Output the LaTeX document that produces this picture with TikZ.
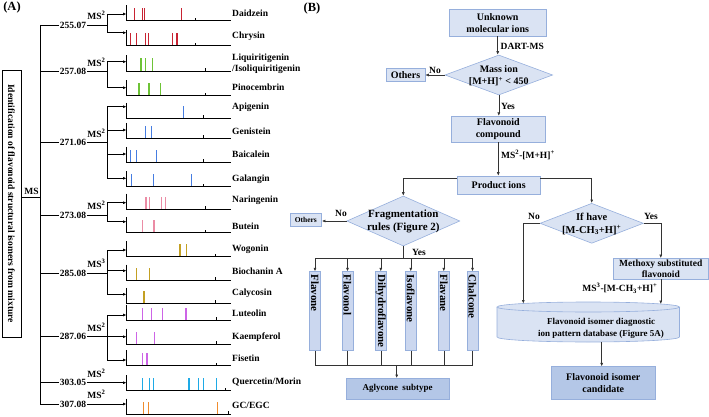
\documentclass[tikz,border=0pt]{standalone}
\usepackage{fontspec}
\setmainfont{Liberation Serif}
\usetikzlibrary{arrows.meta, shapes.geometric, positioning, calc}
\definecolor{pkRed}{RGB}{200,35,50}
\definecolor{pkGreen}{RGB}{110,195,55}
\definecolor{pkBlue}{RGB}{70,125,225}
\definecolor{pkPink}{RGB}{235,140,165}
\definecolor{pkOlive}{RGB}{195,160,35}
\definecolor{pkViolet}{RGB}{205,100,230}
\definecolor{pkCyan}{RGB}{30,170,230}
\definecolor{pkOrange}{RGB}{240,140,45}
\definecolor{boxFill}{RGB}{218,227,243}
\definecolor{boxLine}{RGB}{150,175,220}
\definecolor{darkFill}{RGB}{180,199,231}
\definecolor{vFill}{RGB}{203,215,239}

\begin{document}
\begin{tikzpicture}[x=1pt, y=-1pt,
    txt/.style={font=\fontsize{9.5}{11}\selectfont\bfseries, inner sep=1pt},
    arr/.style={-{Latex[length=3.5pt, width=3pt]}},
    fbox/.style={draw=boxLine, fill=boxFill, line width=0.6pt, align=center, inner sep=0pt, font=\fontsize{10}{12}\selectfont\bfseries},
    dia/.style={diamond, draw=boxLine, fill=boxFill, line width=0.6pt, inner sep=0pt},
    ftxt/.style={align=center, inner sep=0pt, font=\fontsize{10}{12}\selectfont\bfseries},
    vbox/.style={draw=boxLine, fill=vFill, line width=0.6pt, rotate=-90, align=left, text width=73pt, inner xsep=3pt, inner ysep=0pt, minimum height=11.3pt, font=\fontsize{11}{12}\selectfont\bfseries},
    flow/.style={draw=black!80, line width=0.6pt}]
                \useasboundingbox (0,0) rectangle (709,417);

                % Panel letters
                \node[font=\fontsize{12.5}{14}\selectfont\bfseries, inner sep=0pt] (lblA) at (12,7) {(A)};
                \node[font=\fontsize{12.5}{14}\selectfont\bfseries, inner sep=0pt] (lblB) at (312,8) {(B)};

                % (A) title box and MS trunk
                \node[txt, draw, line width=0.7pt, rotate=-90, minimum width=267pt, minimum height=19pt, inner sep=0pt] (title) at (11.5,203.5) {Identification of flavonoid structural isomers from mixture};
                \coordinate (msj) at (40,197);
                \draw[line width=0.7pt] (title.north |- msj) -- (msj);
                \node[txt, anchor=base] (msl) at (31.5,194.5) {MS};
                \coordinate (tkTop) at (40,25);
                \coordinate (tkBot) at (40,404);
                \draw[line width=0.7pt] (tkTop) -- (tkBot);

                % Spectra rows
                \foreach \ya/\yb/\col/\pk/\tk/\ly/\nm [count=\i] in {
                    14/20.7/pkRed/{134.3,142.7,144.3,181.7}/195/13.3/Daidzein,
                    32.7/45.7/pkRed/{130.5,136.7,145.7,148.2,172.7,177}/195/36/Chrysin,
                    61.7/71/pkGreen/{141,145.7,152.3}/205/64/{Liquiritigenin\\/Isoliquiritigenin},
                    87.7/95.7/pkGreen/{139,149,160.7}/205/87.3/Pinocembrin,
                    106.7/118.3/pkBlue/{183.3}/203.3/107.7/Apigenin,
                    130/138.3/pkBlue/{145.7,151.7}/203.3/131/Genistein,
                    154/162.3/pkBlue/{130.7,136.7,156.7}/203.3/154.3/Baicalein,
                    178.3/186.7/pkBlue/{131.7,153.3,191.7}/203.3/179/Galangin,
                    202.7/209/pkPink/{146,149.3,161.7,165.7}/205.7/200.5/Naringenin,
                    221.7/232.7/pkPink/{142.3,154}/205.7/226.7/Butein,
                    250/256.7/pkOlive/{180,186.7}/215/249/Wogonin,
                    270.7/280/pkOlive/{136.7,149.7}/215/271/Biochanin A,
                    294.3/303.3/pkOlive/{144}/215/293.3/Calycosin,
                    315/320/pkViolet/{142.7,151.7,162.7,186}/216.7/313.3/Luteolin,
                    336.7/344/pkViolet/{136.7,154.3}/216.7/336.7/Kaempferol,
                    360/365.7/pkViolet/{142.3,147}/216.7/358.3/Fisetin,
                    382.7/390.7/pkCyan/{142.7,149.3,153.3,189,198.3,203.3,216.7}/225/382/{Quercetin/Morin},
                    404/414/pkOrange/{143.3,148.3,217.7}/228.3/405.7/{GC/EGC}} {
                    \coordinate (sv\i) at (107,\ya);
                    \coordinate (ax\i) at (126.5,\ya);
                    \coordinate (bs\i) at (126.5,\yb);
                    \foreach \p in \pk {\draw[draw=\col, line width=1.3pt] (\p,\yb) -- ++(0,-12.5);}
                    \draw[line width=0.7pt] ($(bs\i)+(0,-15.5)$) -- (bs\i) -- ++(104,0);
                    \draw[line width=0.7pt] (\tk,\yb) -- ++(0,-3);
                    \node[txt, anchor=west, align=left] (nm\i) at (231,\ly) {\nm};
                }

                % Precursor masses
                \foreach \m/\y/\s [count=\g] in {255.07/25/2, 257.08/71.7/2, 271.06/142.7/2, 273.08/215/2,
                    285.08/273.3/3, 287.06/336.7/2, 303.05/382.7/2, 307.08/404/2} {
                    \node[txt] (m\g) at (73,\y) {\m};
                    \node[txt, anchor=base] (ms\g) at (96.5,\y-5.5) {MS\textsuperscript{\s}};
                    \draw[line width=0.7pt] (tkTop |- m\g.west) -- (m\g.west);
                }
                \foreach \g/\fa/\la in {1/1/2, 2/3/4, 3/5/8, 4/9/10, 5/11/13, 6/14/16} {
                    \draw[line width=0.7pt] (m\g.east) -- (sv\fa |- m\g.east);
                    \draw[line width=0.7pt] (sv\fa) -- (sv\la);
                }
                \foreach \i in {1,...,16} \draw[line width=0.7pt, arr] (sv\i) -- (ax\i);
                \draw[line width=0.7pt, arr] (m7.east) -- (ax17);
                \draw[line width=0.7pt, arr] (m8.east) -- (ax18);

                % (B) flow chart
                \node[fbox, minimum width=96.7pt, minimum height=26.7pt] (unk) at (497.7,22.7) {Unknown\\molecular ions};
                \node[dia, minimum width=107.7pt, minimum height=40pt] (mass) at (498.8,75) {};
                \node[ftxt] (massT) at (498.8,76) {Mass ion\\{[}M+H]\textsuperscript{+} < 450};
                \node[fbox, minimum width=39pt, minimum height=13.4pt] (oth1) at (405.5,75) {Others};
                \node[fbox, minimum width=93.3pt, minimum height=25.7pt] (flav) at (498.3,129) {Flavonoid\\compound};
                \node[fbox, minimum width=82.7pt, minimum height=18pt] (prod) at (498.7,185) {Product ions};

                \draw[flow, arr] (unk.south) -- (unk.south |- mass.north);
                \node[txt, anchor=west] (dart) at (499.5,46.7) {DART-MS};
                \draw[flow, arr] (mass.west) -- (oth1.east) node[txt, midway, above=0pt] (no1) {No};
                \draw[flow, arr] (mass.south) -- (mass.south |- flav.north);
                \node[txt, anchor=west] (yes1) at (500,106) {Yes};
                \draw[flow, arr] (flav.south) -- (flav.south |- prod.north);
                \node[txt, anchor=west] (ms2l) at (500,155) {MS\textsuperscript{2}-[M+H]\textsuperscript{+}};

                % left branch: aglycone subtype
                \node[dia, minimum width=113pt, minimum height=50pt] (frag) at (403.3,221) {};
                \node[ftxt, font=\fontsize{11}{13}\selectfont\bfseries] (fragT) at (403.3,221) {Fragmentation\\rules (Figure 2)};
                \node[fbox, minimum width=31.7pt, minimum height=12.7pt, font=\fontsize{7.5}{9}\selectfont\bfseries] (oth2) at (305.8,219.7) {Others};
                \foreach \x/\nm [count=\i] in {315/Flavone, 347.5/Flavonol, 380.8/Dihydroflavone, 410.8/Isoflavone, 443.8/Flavane, 472.5/Chalcone}
                    \node[vbox] (v\i) at (\x,311.1) {\nm};
                \node[fbox, fill=darkFill, minimum width=103pt, minimum height=21pt, font=\fontsize{9}{11}\selectfont\bfseries] (agl) at (397.5,388.8) {Aglycone\ \ subtype};

                \draw[flow, arr] ($(prod.west)+(0,-7)$) -| (frag.north);
                \draw[flow, arr] (frag.west) -- (frag.west -| oth2.east);
                \node[txt] (no2) at (341,213.3) {No};
                \coordinate (dist) at (403.3,258);
                \draw[flow] (frag.south) -- (dist);
                \node[txt] (yes2) at (419,252.5) {Yes};
                \draw[flow] (v1.west |- dist) -- (v6.west |- dist);
                \foreach \i in {1,...,6} \draw[flow, arr] (v\i.west |- dist) -- (v\i.west);
                \coordinate (col) at (396.7,365.7);
                \draw[flow] (v1.east) |- (col) -| (v6.east);
                \foreach \i in {2,...,5} \draw[flow] (v\i.east) -- (v\i.east |- col);
                \draw[flow, arr] (col) -- (col |- agl.north);

                % right branch: isomer database
                \node[dia, minimum width=103.3pt, minimum height=40pt] (ifh) at (591.7,223.3) {};
                \node[ftxt, font=\fontsize{10.5}{12.5}\selectfont\bfseries] (ifhT) at (591.7,224) {If have\\{[}M-CH\textsubscript{3}+H]\textsuperscript{+}};
                \node[fbox, minimum width=95pt, minimum height=20.7pt, font=\fontsize{9.5}{10.5}\selectfont\bfseries] (meth) at (660.8,268.7) {Methoxy substituted\\flavonoid};
                \fill[boxFill] (497,307) -- (497,337) arc[start angle=180, end angle=0, x radius=91.25, y radius=5]
                    -- (679.5,307) arc[start angle=360, end angle=180, x radius=91.25, y radius=5] -- cycle;
                \draw[boxLine, line width=0.6pt] (497,307) -- (497,337) arc[start angle=180, end angle=0, x radius=91.25, y radius=5] -- (679.5,307);
                \draw[boxLine, line width=0.6pt] (588.25,307) ellipse[x radius=91.25, y radius=5];
                \node[ftxt, font=\fontsize{9}{12}\selectfont\bfseries] (dbT) at (601,328) {Flavonoid isomer diagnostic\\ion pattern database (Figure 5A)};
                \node[fbox, fill=darkFill, minimum width=103.3pt, minimum height=32.7pt] (cand) at (603.3,383) {Flavonoid isomer\\candidate};

                \draw[flow, arr] ($(prod.east)+(0,-7)$) -| (ifh.north);
                \coordinate (dbNo) at (523.3,303.5);
                \draw[flow, arr] (ifh.west) -| (dbNo);
                \node[txt] (no3) at (534,216.7) {No};
                \draw[flow, arr] (ifh.east) -| (meth.north);
                \node[txt] (yes3) at (651,216.7) {Yes};
                \coordinate (dbYes) at (660.8,304);
                \draw[flow, arr] (meth.south) -- (dbYes);
                \node[txt, anchor=east] (ms3l) at (658.5,288.3) {MS\textsuperscript{3}-[M-CH\textsubscript{3}+H]\textsuperscript{+}};
                \coordinate (dbBot) at (601.7,342);
                \draw[flow, arr] (dbBot) -- (dbBot |- cand.north);
\end{tikzpicture}
\end{document}
